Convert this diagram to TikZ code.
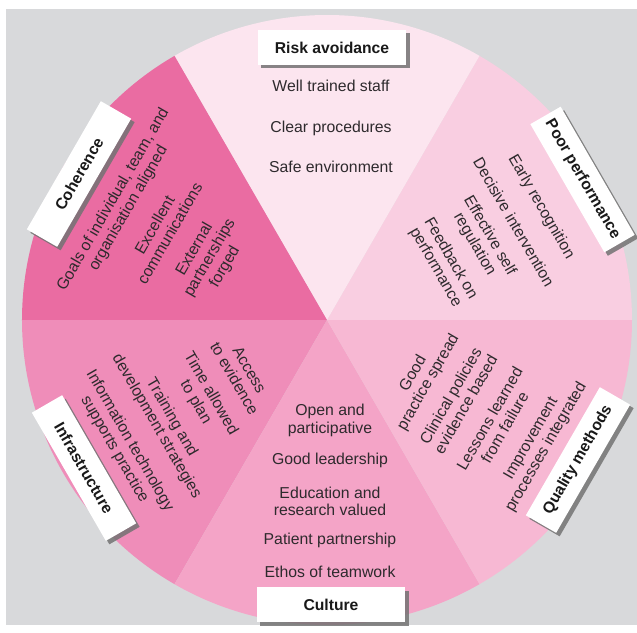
\documentclass[tikz,border=0pt]{standalone}
\usepackage{fontspec}
\setmainfont{Liberation Sans}
\usetikzlibrary{shadows}
\definecolor{bggray}{HTML}{D8D9DB}
\definecolor{cRisk}{HTML}{FCE5EF}
\definecolor{cPoor}{HTML}{F9CEE1}
\definecolor{cQual}{HTML}{F7B8D3}
\definecolor{cCult}{HTML}{F4A4C7}
\definecolor{cInfra}{HTML}{EF8DB9}
\definecolor{cCoh}{HTML}{EA6CA2}
\definecolor{txt}{HTML}{2E2A2D}
\begin{document}
\begin{tikzpicture}[x=1pt,y=1pt,
  item/.style={font=\fontsize{15.8}{17.5}\selectfont, text=txt, align=center, inner sep=0pt},
  tagbox/.style={fill=white, minimum width=148pt, minimum height=35pt, inner sep=0pt,
    font=\bfseries\fontsize{15.7}{18}\selectfont, text=black!90,
    drop shadow={shadow xshift=3.5pt, shadow yshift=-3.5pt, fill=black!55, opacity=0.85}},
  sector/.style={draw=none}]
\useasboundingbox (-327,-312) rectangle (310,320);
\fill[white] (-327,-312) rectangle (310,320);
\fill[bggray] (-321,-305) rectangle (310,311);
% sectors
\fill[cPoor] (0,0) -- (0:305) arc[start angle=0, end angle=60, radius=305] -- cycle;
\fill[cRisk] (0,0) -- (60:305) arc[start angle=60, end angle=120, radius=305] -- cycle;
\fill[cCoh] (0,0) -- (120:305) arc[start angle=120, end angle=180, radius=305] -- cycle;
\fill[cInfra] (0,0) -- (180:305) arc[start angle=180, end angle=240, radius=305] -- cycle;
\fill[cCult] (0,0) -- (240:305) arc[start angle=240, end angle=300, radius=305] -- cycle;
\fill[cQual] (0,0) -- (300:305) arc[start angle=300, end angle=360, radius=305] -- cycle;
% Risk avoidance
\node[item] (r1) at (4,234) {Well trained staff};
\node[item] (r2) at (4,192) {Clear procedures};
\node[item] (r3) at (4,153) {Safe environment};
% Coherence
\node[item, rotate=60] (c1) at (-206,116) {Goals of individual, team, and\\organisation aligned};
\node[item, rotate=60] (c2) at (-165,91) {Excellent\\communications};
\node[item, rotate=60] (c3) at (-117,62) {External\\partnerships\\forged};
% Poor performance
\node[item, rotate=-60] (p1) at (214,113) {Early recognition};
\node[item, rotate=-60] (p2) at (187,98) {Decisive intervention};
\node[item, rotate=-60] (p3) at (155,80) {Effective self\\regulation};
\node[item, rotate=-60] (p4) at (116,57) {Feedback on\\performance};
% Infrastructure
\node[item, rotate=-60] (i1) at (-85,-54) {Access\\to evidence};
\node[item, rotate=-60] (i2) at (-124,-78) {Time allowed\\to plan};
\node[item, rotate=-60] (i3) at (-163,-102) {Training and\\development strategies};
\node[item, rotate=-60] (i4) at (-205,-125) {Information technology\\supports practice};
% Quality methods
\node[item, rotate=60] (q1) at (94,-58) {Good\\practice spread};
\node[item, rotate=60] (q2) at (131,-80) {Clinical policies\\evidence based};
\node[item, rotate=60] (q3) at (170,-103) {Lessons learned\\from failure};
\node[item, rotate=60] (q4) at (212,-123) {Improvement\\processes integrated};
% Culture
\node[item] (u1) at (3,-100.5) {Open and\\participative};
\node[item] (u2) at (3,-140) {Good leadership};
\node[item] (u3) at (3,-181.5) {Education and\\research valued};
\node[item] (u4) at (3,-220) {Patient partnership};
\node[item] (u5) at (3,-252) {Ethos of teamwork};
% label boxes
\node[tagbox] (tRisk) at (5,272.5) {Risk avoidance};
\node[tagbox] (tCult) at (4,-284.5) {Culture};
\node[tagbox, rotate=60] (tCoh) at (-248,146) {Coherence};
\node[tagbox, rotate=-60] (tPoor) at (255.5,140.5) {Poor performance};
\node[tagbox, rotate=60] (tQual) at (251,-140) {Quality methods};
\node[tagbox, rotate=-60] (tInfra) at (-243,-148) {Infrastructure};
\end{tikzpicture}
\end{document}
